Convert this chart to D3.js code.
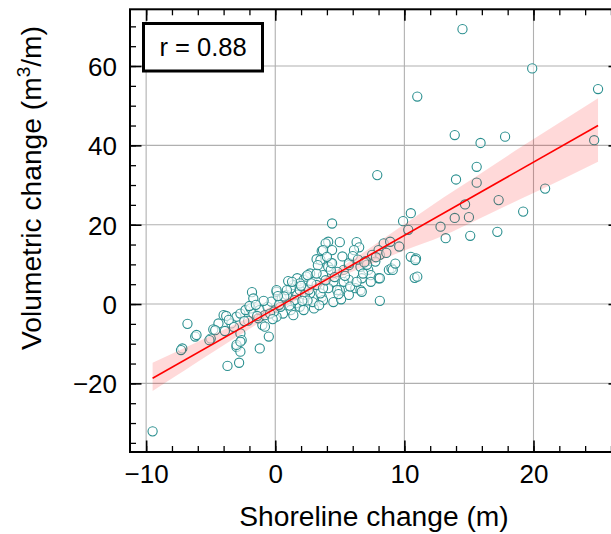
<!DOCTYPE html>
<html>
<head>
<meta charset="utf-8">
<script src="https://cdn.jsdelivr.net/npm/d3@7"></script>
<style>
html,body{margin:0;padding:0;background:#fff;}
svg{display:block;font-family:"Liberation Sans",Arial,Helvetica,sans-serif;}
</style>
</head>
<body>
<svg id="chart" width="611" height="534"></svg>
<script>
// ---- data ----
const shoreline = [
 -9.5,14.5,19.9,11.0,13.9,15.9,17.8,25.0,24.7,20.9,
 15.6,14.0,15.6,17.3,14.7,19.2,13.9,15.0,12.8,13.2,15.1,17.2,
 7.9,4.4,10.5,9.9,10.3,10.5,10.9,10.8,8.1,
 4.1,3.9,5.0,3.6,4.4,6.3,6.5,6.1,3.2,4.3,4.1,8.4,8.9,9.6,8.0,7.5,8.1,7.75,10.85,
 5.3,5.7,6.6,7.2,8.8,9.0,4.8,2.7,1.7,2.2,3.7,4.5,5.7,6.7,7.4,8.0,6.2,5.0,4.1,3.2,
 2.2,1.4,2.7,1.7,3.6,5.7,6.6,4.5,
 -1.8,-4.0,-4.4,-4.8,-5.0,-3.4,-3.0,-2.7,-2.3,-1.9,-1.7,-2.7,-2.6,-3.0,-2.7,-1.2,
 -0.5,-1.0,-1.3,-1.2,-0.6,-0.3,0.1,0.5,0.9,1.2,2.4,1.9,2.3,1.6,1.2,0.6,0.1,-0.1,
 1.9,2.2,0.4,-0.8,-1.7,
 -6.8,-6.2,-6.1,-7.2,-7.3,-5.1,-4.65,-3.8,-3.7,-2.8,-3.0,-2.7,-0.8,-3.6,-2.0,
 1.4,3.0,3.7,3.5,6.7,2.5,3.2,5.3,7.4,8.1,11.0,3.7,4.8,5.8,6.3,6.8,4.3,4.4,5.7,3.5,
 3.7,0.9,1.9,0.1,9.1,2.9,5.1,7.0,0.3,-0.4,1.0,2.6,4.0,6.0,
 -3.2,-2.1,-1.4,-0.9,0.7,1.5,2.0,2.8,3.3,4.6,5.4,6.4,7.1,7.8,8.6,9.3,
 0.2,1.1,-0.2,2.5,3.9,5.2,6.9,4.9,3.4,2.1,1.3,-1.5,-2.4,-3.9
];
const volumetric = [
 -32.1,69.3,59.4,52.3,42.6,40.6,42.2,54.2,41.3,29.1,
 34.6,31.4,30.6,26.2,25.1,23.3,21.7,21.9,19.5,16.6,17.2,18.2,
 32.5,20.3,22.9,20.9,18.7,11.9,11.5,6.6,0.8,
 15.7,15.3,15.6,13.4,13.6,15.6,14.3,13.6,11.3,10.4,9.4,15.3,15.7,14.5,13.6,12.4,12.4,10.7,11.1,
 8.6,9.8,9.4,8.6,8.6,9.0,8.1,7.7,6.5,6.1,7.3,5.6,6.1,6.5,7.3,6.5,4.0,3.5,4.0,4.8,
 4.0,4.8,2.7,2.3,1.8,2.3,3.5,0.5,
 3.0,-2.8,-4.9,-6.4,-8.7,-4.9,-3.2,-2.4,-1.5,-1.1,-2.4,-7.4,-9.1,-10.8,-12.0,-11.2,
 -8.2,-5.3,-3.6,-1.5,-0.7,0.6,3.1,1.4,2.3,4.0,6.9,3.5,2.3,0.2,-1.5,-2.4,-3.2,-1.9,
 -0.7,-1.5,-0.7,-2.8,1.4,
 -5.0,-8.2,-7.8,-11.2,-11.6,-9.1,-6.6,-3.0,-15.6,-14.8,-10.3,-9.5,-5.7,-4.0,-0.5,
 -2.8,-1.1,1.0,2.7,3.1,7.3,7.7,5.6,5.6,6.5,6.9,4.0,3.5,4.4,5.6,7.7,8.6,10.3,10.3,11.1,
 13.6,3.5,5.2,3.5,8.6,0.5,1.2,10.8,-0.2,-2.4,5.8,3.6,11.9,12.1,
 -5.8,-4.2,-3.0,0.8,1.9,1.0,4.6,5.2,9.8,6.8,7.1,11.2,9.9,11.8,12.9,10.2,
 2.0,-0.4,-3.8,0.9,6.0,12.0,10.5,2.5,-0.3,0.8,5.6,-0.2,-4.3,-6.8
];
// regression line
const fitX = [-9.5, 25.0];
const fitY = [-18.7, 45.0];
// confidence band
const bandX    = [-9.5, -7, -5, -3, 0, 3, 5, 7, 10, 13, 16, 19, 22, 25];
const bandLow  = [-21.9, -16.7, -12.5, -8.3, -2.2, 3.5, 6.8, 9.5, 13.5, 17.2, 21.8, 26.5, 31.1, 35.9];
const bandHigh = [-14.8, -11.0, -8.0, -4.9, -0.1, 5.1, 9.1, 13.4, 20.1, 26.8, 33.1, 39.5, 45.7, 51.9];
const xTicks = [-10, 0, 10, 20];
const yTicks = [-20, 0, 20, 40, 60];
const xMinor = d3.range(-10, 27, 2);
const yMinor = d3.range(-35, 75, 5);
const rText = "r = 0.88";

// ---- layout ----
const svg = d3.select("#chart");
const L = 130, R = 620, T = 9.3, B = 452;
const x = d3.scaleLinear().domain([-11.25, 26.7]).range([L, R]);
const y = d3.scaleLinear().domain([-37.3, 74.3]).range([B, T]);

// grid
const grid = svg.append("g");
grid.selectAll(".gx").data(xTicks).join("line")
  .attr("x1", d => x(d)).attr("x2", d => x(d)).attr("y1", T).attr("y2", B)
  .attr("stroke", "#b0b0b0").attr("stroke-width", 1.1);
grid.selectAll(".gy").data(yTicks).join("line")
  .attr("x1", L).attr("x2", R).attr("y1", d => y(d)).attr("y2", d => y(d))
  .attr("stroke", "#b0b0b0").attr("stroke-width", 1.1);

// points
const pts = shoreline.map((s, i) => [s, volumetric[i]]);
svg.append("g").selectAll("circle").data(pts).join("circle")
  .attr("cx", d => x(d[0])).attr("cy", d => y(d[1])).attr("r", 4.6)
  .attr("fill", "#ffffff").attr("fill-opacity", 0.6)
  .attr("stroke", "#2a8f8f").attr("stroke-width", 1.1);

// band
const band = bandX.map((b, i) => ({x: b, lo: bandLow[i], hi: bandHigh[i]}));
svg.append("path").datum(band)
  .attr("d", d3.area().x(d => x(d.x)).y0(d => y(d.lo)).y1(d => y(d.hi)).curve(d3.curveMonotoneX))
  .attr("fill", "red").attr("fill-opacity", 0.15);

// fit line
svg.append("path").datum(fitX.map((v, i) => [v, fitY[i]]))
  .attr("d", d3.line().x(d => x(d[0])).y(d => y(d[1])))
  .attr("stroke", "red").attr("stroke-width", 1.6).attr("fill", "none");

// axes (ticks inward on all sides)
const fmt = d => (d < 0 ? "\u2212" : "") + Math.abs(d);
function addAxis(axisGen, transform, minorVals, majorVals) {
  const g = svg.append("g").attr("transform", transform);
  g.call(axisGen.tickValues(minorVals).tickSize(-6).tickFormat(""));
  g.select(".domain").remove();
  g.selectAll("line").attr("stroke", "#000").attr("stroke-width", 1.3);
  const g2 = svg.append("g").attr("transform", transform);
  g2.call(axisGen.tickValues(majorVals).tickSize(-11.5).tickPadding(14).tickFormat(fmt));
  g2.select(".domain").remove();
  g2.selectAll("line").attr("stroke", "#000").attr("stroke-width", 1.6);
  g2.selectAll("text").attr("font-size", 26).attr("fill", "#000")
    .attr("font-family", '"Liberation Sans",Arial,Helvetica,sans-serif');
  return g2;
}
const gxB = addAxis(d3.axisBottom(x), `translate(0,${B})`, xMinor, xTicks);
const gxT = addAxis(d3.axisTop(x), `translate(0,${T})`, xMinor, xTicks);
gxT.selectAll("text").remove();
const gyL = addAxis(d3.axisLeft(y), `translate(${L},0)`, yMinor, yTicks);
const gyR = addAxis(d3.axisRight(y), `translate(${R},0)`, yMinor, yTicks);
gyR.selectAll("text").remove();
gxB.selectAll("text").attr("dy", "0.71em").attr("y", 13);
gyL.selectAll("text").attr("x", -13).attr("dy", "0.36em");

// frame
svg.append("rect").attr("x", L).attr("y", T).attr("width", R - L).attr("height", B - T)
  .attr("fill", "none").attr("stroke", "#000").attr("stroke-width", 2);

// r box
svg.append("rect").attr("x", 143.5).attr("y", 23.5).attr("width", 119).attr("height", 47.5)
  .attr("fill", "#fff").attr("stroke", "#000").attr("stroke-width", 3);
svg.append("text").attr("x", 203).attr("y", 55.5).attr("text-anchor", "middle")
  .attr("font-size", 25.5).text(rText);

// axis labels
svg.append("text").attr("x", 374).attr("y", 526).attr("text-anchor", "middle")
  .attr("font-size", 28.2).text("Shoreline change (m)");
const yl = svg.append("text").attr("transform", "translate(41,188) rotate(-90)")
  .attr("text-anchor", "middle").attr("font-size", 28.2);
yl.append("tspan").text("Volumetric change (m");
yl.append("tspan").attr("font-size", 19).attr("dy", -11).text("3");
yl.append("tspan").attr("dy", 11).text("/m)");
</script>
</body>
</html>
